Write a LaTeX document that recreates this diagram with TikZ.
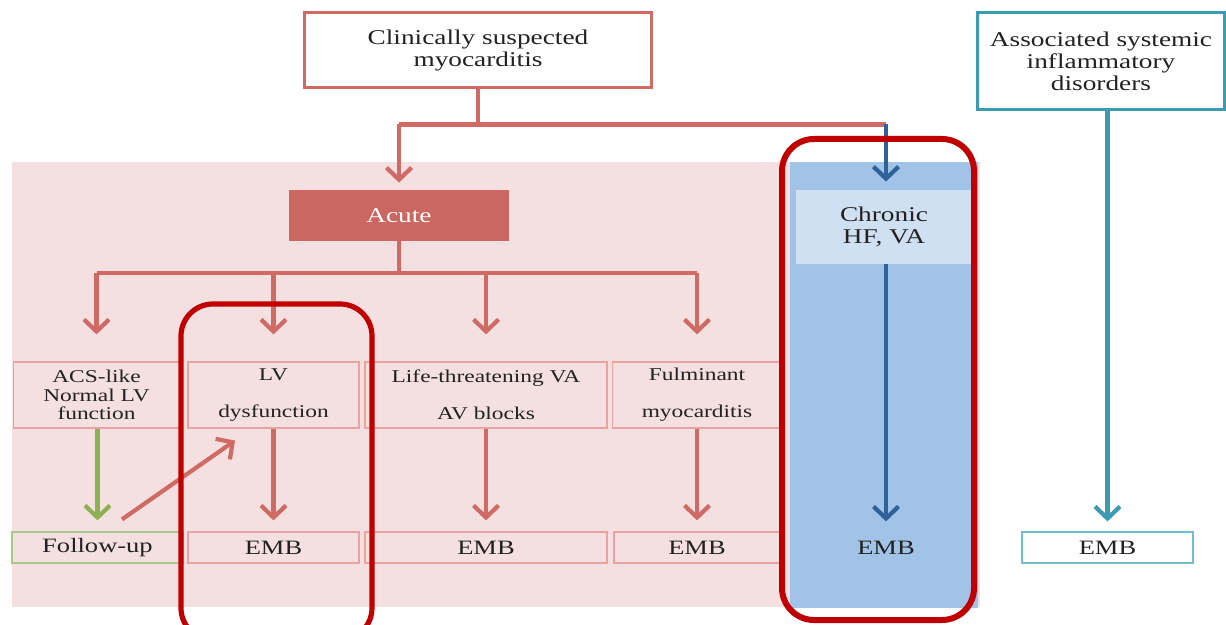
\documentclass[tikz,border=0pt]{standalone}
\usepackage{fontspec}
\setmainfont{Liberation Serif}[FakeStretch=1.3]
\usetikzlibrary{arrows.meta}

\definecolor{flowred}{HTML}{CF6A64}
\definecolor{acutered}{HTML}{CC6661}
\definecolor{pinkbg}{HTML}{F4E0E0}
\definecolor{boxred}{HTML}{E9A3A0}
\definecolor{flowgreen}{HTML}{8CB152}
\definecolor{boxgreen}{HTML}{A9C98B}
\definecolor{panelblue}{HTML}{A2C3E8}
\definecolor{chronblue}{HTML}{CFE0F2}
\definecolor{darkblue}{HTML}{2E6299}
\definecolor{flowteal}{HTML}{3A9BB2}
\definecolor{boxteal}{HTML}{72BCD0}
\definecolor{markred}{HTML}{C00000}
\definecolor{txt}{HTML}{222222}

\begin{document}
\begin{tikzpicture}[x=0.5pt,y=-0.5pt,>={Straight Barb[length=6pt,width=12.5pt]},
	every node/.style={text=txt,align=center,inner sep=0pt},
	bigbox/.style={line width=1.5pt,font=\fontsize{10.5}{11}\selectfont},
	rowbox/.style={draw=boxred,line width=0.6pt,minimum height=33pt,font=\fontsize{9}{9.3}\selectfont},
	embbox/.style={draw=boxred,line width=0.6pt,minimum height=15.5pt,font=\fontsize{10.2}{11}\selectfont},
	redline/.style={draw=flowred,line width=2.1pt},
	redarr/.style={redline,->},
	greenarr/.style={draw=flowgreen,line width=2.1pt,->},
	bluearr/.style={draw=darkblue,line width=2.1pt,->},
	tealarr/.style={draw=flowteal,line width=2.1pt,->},
	hiframe/.style={draw=markred,line width=2.6pt,rounded corners=16pt}]

	\useasboundingbox[fill=white] (0,0) rectangle (1226,625);

	% panels
	\fill[pinkbg] (12,162) rectangle (980,607);
	\fill[panelblue] (790,162) rectangle (978,608);

	% top boxes
	\node[bigbox,draw=flowred,minimum width=173.5pt,minimum height=37.5pt] (susp) at (478,50.5) {Clinically suspected\\myocarditis};
	\node[bigbox,draw=flowteal,minimum width=123.5pt,minimum height=48.5pt] (assoc) at (1101,61.5) {Associated systemic\\inflammatory\\disorders};

	% acute and chronic
	\node[fill=acutered,text=white,minimum width=110pt,minimum height=25.5pt,font=\fontsize{10.5}{11}\selectfont] (acute) at (399,215.5) {Acute};
	\node[fill=chronblue,minimum width=88pt,minimum height=37pt,font=\fontsize{10.5}{11}\selectfont] (chron) at (884,227) {Chronic\\HF, VA};

	% second row
	\node[rowbox,minimum width=83pt] (acs) at (96.5,395) {ACS-like\\Normal LV\\function};
	\node[rowbox,minimum width=85.5pt] (lvd) at (273.5,395) {LV\\[9.3pt]dysfunction};
	\node[rowbox,minimum width=121pt] (lta) at (486,395) {Life-threatening VA\\[9.3pt]AV blocks};
	\node[rowbox,minimum width=84.5pt] (ful) at (697,395) {Fulminant\\[9.3pt]myocarditis};

	% third row
	\node[embbox,draw=boxgreen,minimum width=85.5pt] (fup) at (97.5,547.5) {Follow-up};
	\node[embbox,minimum width=85.5pt] (emb1) at (273.5,547.5) {EMB};
	\node[embbox,minimum width=121pt] (emb2) at (486,547.5) {EMB};
	\node[embbox,minimum width=83pt] (emb3) at (697,547.5) {EMB};
	\node[embbox,draw=none,minimum width=80pt] (emb4) at (886,547.5) {EMB};
	\node[embbox,draw=boxteal,minimum width=85.5pt] (emb5) at (1107.5,547.5) {EMB};

	% first split
	\draw[redline] (susp.south) -- ++(0,35) coordinate (fork);
	\draw[redline] (fork -| acute) -- (fork -| emb4);
	\draw[redarr,shorten >=3.5pt] (fork -| acute) -- (acute.north);
	\draw[bluearr,shorten >=4pt] (fork -| emb4) -- (emb4.north |- chron.north);

	% acute branches
	\draw[redline] (acute.south) -- ++(0,32) coordinate (split);
	\draw[redline] (split -| acs) -- (split -| ful);
	\foreach \n in {acs,lvd,lta,ful}
		\draw[redarr,shorten >=13.5pt] (split -| \n) -- (\n.north);

	% down to EMB
	\draw[greenarr,shorten >=5.5pt] (fup.north |- acs.south) -- (fup.north);
	\draw[redarr,shorten >=5.5pt] (lvd.south) -- (emb1.north);
	\draw[redarr,shorten >=5.5pt] (lta.south) -- (emb2.north);
	\draw[redarr,shorten >=5.5pt] (ful.south) -- (emb3.north);
	\draw[bluearr,shorten >=5pt] (emb4.north |- chron.south) -- (emb4.north);
	\draw[tealarr,shorten >=5pt] (emb5.north |- assoc.south) -- (emb5.north);
	\draw[redarr] ([xshift=12.25pt,yshift=6pt]fup.north) -- ([xshift=-19.25pt,yshift=-6pt]lvd.south);

	% highlight frames
	\draw[hiframe] (181,304) rectangle (372,640);
	\draw[hiframe,line width=3pt] (782,139) rectangle (974,620);
\end{tikzpicture}
\end{document}
